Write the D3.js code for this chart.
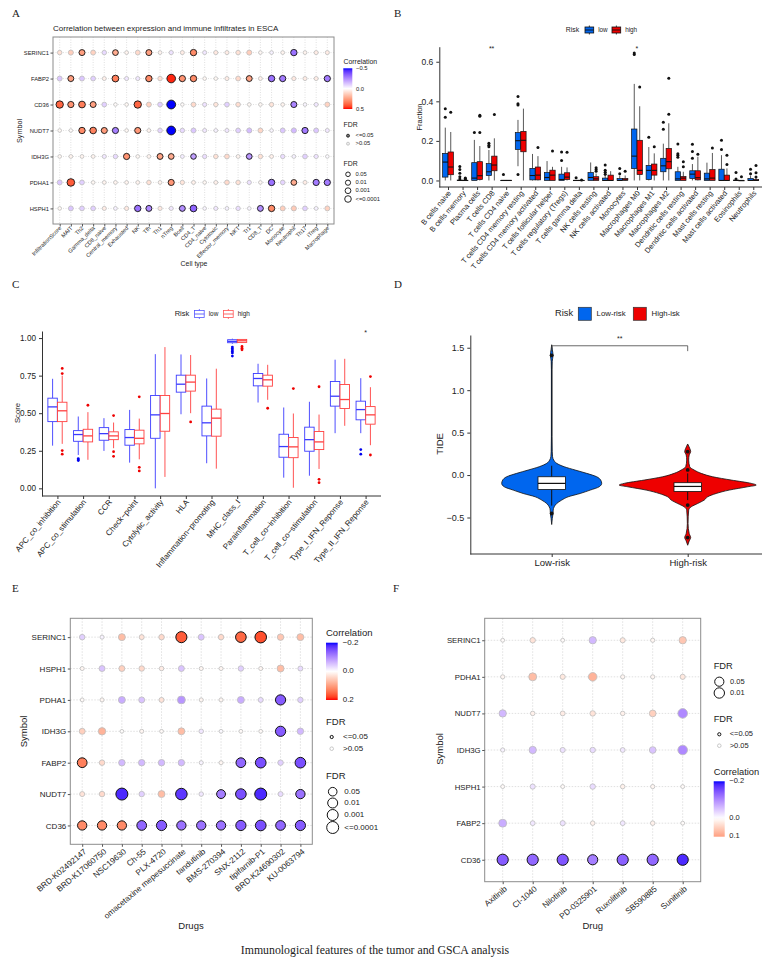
<!DOCTYPE html>
<html lang="en">
<head>
<meta charset="UTF-8">
<title>Immunological features of the tumor and GSCA analysis</title>
<style>
    body { margin: 0; background: #fff; }
    svg { display: block; opacity: 0.999; }
    text { font-family: "Liberation Sans", Arial, sans-serif; fill: #222; }
    .serif { font-family: "Liberation Serif", serif; fill: #222; }
</style>
</head>
<body>
<svg id="chart" width="776" height="966"></svg>
<script src="https://d3js.org/d3.v7.min.js"></script>
<script>
// panel A
const aCells = ["InfiltrationScore","MAIT","Th2","Gamma_delta","CD8_naive","Central_memory","Exhausted","NK","Tfh","Th1","nTreg","Bcell","CD4_T","CD4_naive","Cytotoxic","Effector_memory","NKT","Tr1","CD8_T","DC","Monocyte","Neutrophil","Th17","iTreg","Macrophage"];
const aGenes = ["SERINC1","FABP2","CD36","NUDT7","IDH3G","PDHA1","HSPH1"];
const aCorr = [
    [.08,.13,.25,.12,-.08,.22,.03,.1,.25,.03,-.06,.05,.3,-.05,.06,.05,.08,.13,.02,-.03,.03,-.3,.03,.05,.05],
    [-.12,.25,-.12,-.1,.04,.33,-.05,-.05,.3,.08,.48,.28,.3,.02,.02,.05,.1,.24,.04,-.3,-.28,.06,.05,.05,-.28],
    [.38,.28,.33,.25,-.1,.01,.02,.38,.12,-.1,-.5,.01,.1,-.06,.07,-.1,.09,.02,.02,.07,.03,-.26,-.02,-.05,.12],
    [.02,.01,.3,.32,.26,-.27,.02,.27,.03,-.09,-.5,-.08,-.12,-.05,-.03,-.05,-.1,-.14,.11,-.02,-.12,-.15,-.28,-.12,-.05],
    [.02,.03,.03,.03,-.05,-.08,.28,.02,.03,.24,.22,-.04,-.2,-.07,.08,.1,.03,-.22,.08,.04,-.07,-.03,-.1,-.06,-.01],
    [-.12,.4,-.1,.02,.03,.03,.03,.03,.08,.03,.27,.07,.04,.02,.04,.1,.08,-.06,.02,-.3,-.09,.22,.05,-.28,-.28],
    [.02,-.12,-.1,-.1,.05,-.03,.06,-.3,-.25,.06,-.05,-.24,-.33,-.02,-.05,-.03,-.07,-.02,-.24,.3,.13,.14,-.1,-.03,.12]
];
const aSig = [
    [2,5,8,12,21],
    [1,5,8,10,11,12,17,19,20,24],
    [0,1,2,3,7,10,21],
    [2,3,4,5,7,10,22],
    [6,9,10,12,17],
    [1,10,19,21,23,24],
    [7,8,11,12,18,19]
];

// panel B
const bCells = ["B cells naive","B cells memory","Plasma cells","T cells CD8","T cells CD4 naive","T cells CD4 memory resting","T cells CD4 memory activated","T cells follicular helper","T cells regulatory (Tregs)","T cells gamma delta","NK cells resting","NK cells activated","Monocytes","Macrophages M0","Macrophages M1","Macrophages M2","Dendritic cells resting","Dendritic cells activated","Mast cells resting","Mast cells activated","Eosinophils","Neutrophils"];
// whisker low, q1, median, q3, whisker high, outliers
const bLow = [
    [0,.017,.093,.137,.267,[.363,.32]],
    [0,0,0,.002,.003,[.07,.056,.037,.019,.007]],
    [0,0,.012,.09,.205,[.242]],
    [0,.025,.044,.085,.154,[.188,.178,.17]],
    [0,0,0,.001,.002,[.03]],
    [.072,.157,.201,.242,.306,[.424,.388,.382,.03]],
    [0,.003,.025,.061,.134,[]],
    [0,0,.015,.04,.098,[]],
    [0,0,.005,.032,.069,[.144,.101]],
    [0,0,0,.001,.002,[.014]],
    [0,0,.015,.04,.091,[]],
    [0,0,0,.012,.03,[.078,.052,.042,.032]],
    [0,0,0,.01,.025,[.061,.034]],
    [0,.06,.123,.26,.488,[.644,.637]],
    [0,.005,.051,.076,.169,[.218]],
    [0,.044,.074,.112,.186,[.294,.259]],
    [0,0,.008,.044,.069,[.184,.135,.127,.117]],
    [0,.01,.032,.049,.083,[.183,.147,.112]],
    [0,0,.008,.037,.09,[]],
    [0,0,0,.057,.128,[.203,.157]],
    [0,0,0,.002,.005,[.04,.007]],
    [0,0,0,.01,.025,[.057,.034]]
];
const bHigh = [
    [0,.029,.068,.144,.245,[.345]],
    [0,0,0,.001,.002,[.012,.01,.005]],
    [0,.005,.024,.095,.174,[.242,.33,.325]],
    [0,.049,.078,.123,.213,[.333]],
    [0,0,0,.001,.002,[]],
    [0,.145,.203,.248,.363,[]],
    [0,.003,.027,.068,.123,[.166]],
    [0,0,.027,.052,.069,[.149]],
    [0,.005,.017,.039,.066,[.142]],
    [0,0,0,.001,.001,[.002]],
    [0,0,.008,.019,.035,[.064,.056,.047]],
    [0,0,0,.027,.047,[]],
    [0,.002,.002,.01,.025,[.046]],
    [0,.03,.051,.203,.375,[.472]],
    [0,.027,.051,.083,.137,[.171]],
    [0,.059,.095,.162,.289,[.517,.335]],
    [0,0,.012,.02,.044,[.095,.069]],
    [0,.003,.014,.049,.12,[.132]],
    [0,0,.012,.055,.139,[.164]],
    [0,0,0,.027,.061,[.127,.081]],
    [0,0,0,0,.001,[.019]],
    [0,0,0,.005,.012,[.076,.039,.017]]
];
const bMarks = [["T cells CD8","**"],["Macrophages M0","*"]];

// panel C
const cCats = ["APC_co_inhibition","APC_co_stimulation","CCR","Check\u2212point","Cytolytic_activity","HLA","Inflammation\u2212promoting","MHC_class_I","Parainflammation","T_cell_co\u2212inhibition","T_cell_co\u2212stimulation","Type_I_IFN_Reponse","Type_II_IFN_Reponse"];
const cLow = [
    [.284,.444,.542,.6,.729,[]],
    [.222,.313,.358,.384,.478,[.198,.19,.185]],
    [.249,.32,.364,.404,.467,[]],
    [.171,.287,.338,.391,.522,[]],
    [0,.333,.489,.618,.893,[]],
    [.493,.64,.693,.753,.891,[]],
    [.167,.349,.436,.547,.731,[]],
    [.962,.969,.978,.989,.996,[.94,.93,.92,.91,.9,.88]],
    [.571,.682,.731,.764,.829,[]],
    [.071,.207,.278,.36,.538,[]],
    [.084,.247,.324,.407,.576,[]],
    [.367,.547,.613,.711,.856,[]],
    [.367,.456,.524,.58,.733,[.258,.227]]
];
const cHigh = [
    [.296,.444,.516,.573,.75,[.798,.764,.251,.227]],
    [.19,.309,.349,.393,.507,[.553]],
    [.267,.324,.349,.376,.438,[.484,.244,.213]],
    [.193,.296,.333,.387,.464,[.609,.14,.116]],
    [.076,.38,.498,.618,.94,[]],
    [.5,.647,.707,.753,.887,[.442]],
    [.131,.347,.467,.527,.796,[]],
    [.967,.971,.982,.991,.993,[.944,.933,.922]],
    [.589,.68,.722,.753,.822,[.533]],
    [.004,.204,.276,.338,.498,[.664]],
    [.129,.258,.309,.378,.491,[.676,.06,.038]],
    [.416,.531,.591,.691,.862,[]],
    [.287,.427,.489,.544,.673,[.744,.222]]
];
const cMarks = [["Type_II_IFN_Reponse","*"]];

// panel D
const dGroups = ["Low-risk","High-risk"];
const dLowY = [1.535,1.476,1.41,1.339,1.24,.453,.276,.217,.177,.138,.098,.059,.02,-.02,-.059,-.098,-.138,-.177,-.217,-.256,-.295,-.335,-.374,-.413,-.453,-.512,-.583];
const dLowDensity = [0,.013,.027,.01,.006,.006,.01,.017,.04,.1,.25,.47,.7,.9,.98,1,.95,.77,.57,.33,.2,.1,.05,.03,.027,.012,0];
const dHighY = [.366,.315,.276,.236,.177,.098,.059,.02,-.02,-.059,-.098,-.118,-.138,-.177,-.217,-.256,-.295,-.335,-.374,-.413,-.571,-.689,-.736,-.776,-.827];
const dHighDensity = [0,.04,.06,.03,.02,.04,.13,.27,.5,.87,1.27,1.37,1.2,.83,.57,.4,.33,.2,.07,.02,.007,.03,.06,.03,0];
const dLowBox = [-.36,-.17,-.098,-.02,.11,[1.41,-.453]];
const dHighBox = [-.295,-.193,-.134,-.09,.02,[.275,.06,-.354,-.736]];

// panel E
const eDrugs = ["BRD-K02492147","BRD-K17060750","NSC19630","Ch-55","PLX-4720","omacetaxine mepesuccinate","tandutinib","BMS-270394","SNX-2112","tipifarnib-P1","BRD-K24690302","KU-0063794"];
const eGenes = ["SERINC1","HSPH1","PDHA1","IDH3G","FABP2","NUDT7","CD36"];
const eCorr = [
    [-.04,-.01,.07,.03,.04,.16,-.05,.04,.15,.17,.06,.07],
    [.01,-.05,.05,.04,.02,-.05,.01,.01,-.04,.01,.07,-.03],
    [.005,.01,-.07,-.05,.03,-.09,.01,.01,-.07,-.03,-.14,-.04],
    [.05,.08,.002,.01,.005,.07,-.02,-.005,.005,.005,-.14,-.06],
    [.13,.04,-.06,-.06,-.06,-.06,-.01,.01,-.13,-.15,-.04,-.15],
    [.03,.04,-.18,-.04,.07,-.17,-.02,-.11,-.15,-.18,-.03,-.12],
    [.12,.12,.12,-.13,-.14,-.12,-.12,-.12,-.14,-.15,-.13,-.14]
];
const eSig = [[5,8,9],[],[10],[10],[0,8,9,11],[2,5,7,8,9,11],[0,1,2,3,4,5,6,7,8,9,10,11]];

// panel F
const fDrugs = ["Axitinib","CI-1040","Nilotinib","PD-0325901","Ruxolitinib","SB590885","Sunitinib"];
const fGenes = ["SERINC1","PDHA1","NUDT7","IDH3G","HSPH1","FABP2","CD36"];
const fCorr = [
    [.004,.03,.004,-.06,.025,.01,.06],
    [.01,.07,.025,.08,.01,.01,.025],
    [-.06,.015,.02,.03,.015,.05,-.1],
    [-.01,-.06,-.025,-.03,-.02,-.05,-.1],
    [.005,-.025,.005,-.03,.015,.01,.005],
    [-.07,-.02,-.025,.015,-.02,.015,.004],
    [-.14,-.13,-.145,-.11,-.135,-.13,-.18]
];
const fSig = [[],[],[],[],[],[],[0,1,2,3,4,5,6]];

const svg = d3.select("#chart");
const defs = svg.append("defs");
const BLUE = "#0000ff", RED = "#ff0000";

function corrColor(limit) {
    return d3.scaleLinear().domain([-limit, 0, limit]).range([BLUE, "#ffffff", RED]).interpolate(d3.interpolateLab);
}

function label(g, x, y, str, size, anchor) {
    return g.append("text").attr("x", x).attr("y", y).attr("font-size", size)
        .attr("text-anchor", anchor || "start").attr("dominant-baseline", "middle").text(str);
}

function rotLabel(g, x, y, str, size) {
    return g.append("text").attr("transform", `translate(${x},${y}) rotate(-90)`)
        .attr("font-size", size).attr("text-anchor", "middle").text(str);
}

function slantTicks(axisG, size, angle, shift) {
    axisG.selectAll("text")
        .attr("font-size", size)
        .attr("text-anchor", "end")
        .attr("dy", 0).attr("x", 0).attr("y", 0)
        .attr("transform", `translate(${shift[0]},${shift[1]}) rotate(${angle})`)
        .attr("dominant-baseline", "middle");
}

function colorBar(g, id, color, from, to, x, y, w, h) {
    const grad = defs.append("linearGradient").attr("id", id)
        .attr("x1", 0).attr("y1", 0).attr("x2", 0).attr("y2", 1);
    d3.range(0, 21).forEach(i => {
        grad.append("stop").attr("offset", i / 20).attr("stop-color", color(from + (to - from) * i / 20));
    });
    g.append("rect").attr("x", x).attr("y", y).attr("width", w).attr("height", h).attr("fill", `url(#${id})`);
}

// bubble panels A, E, F
function dotPanel(o) {
    const g = svg.append("g");
    const x = d3.scalePoint().domain(o.cols).range([o.x0, o.x1]).padding(0.6);
    const y = d3.scalePoint().domain(o.rows).range([o.y0, o.y1]).padding(0.6);

    g.append("g").selectAll("line").data(o.cols).join("line")
        .attr("x1", d => x(d)).attr("x2", d => x(d)).attr("y1", o.y0).attr("y2", o.y1)
        .attr("stroke", "#d8d8d8").attr("stroke-width", 0.8).attr("stroke-dasharray", o.dash);
    g.append("g").selectAll("line").data(o.rows).join("line")
        .attr("y1", d => y(d)).attr("y2", d => y(d)).attr("x1", o.x0).attr("x2", o.x1)
        .attr("stroke", "#d8d8d8").attr("stroke-width", 0.8).attr("stroke-dasharray", o.dash);

    const cells = [];
    o.rows.forEach((r, i) => o.cols.forEach((c, j) => {
        cells.push({ r, c, v: o.corr[i][j], sig: o.sig[i].includes(j) });
    }));
    g.append("g").selectAll("circle").data(cells).join("circle")
        .attr("cx", d => x(d.c)).attr("cy", d => y(d.r))
        .attr("r", d => o.radius(Math.abs(d.v)))
        .attr("fill", d => o.color(d.v))
        .attr("stroke", d => d.sig ? "#111" : "#bdbdbd")
        .attr("stroke-width", d => d.sig ? o.sw : 0.8);

    g.append("rect").attr("x", o.x0).attr("y", o.y0).attr("width", o.x1 - o.x0).attr("height", o.y1 - o.y0)
        .attr("fill", "none").attr("stroke", "#8c8c8c").attr("stroke-width", 1);

    const ax = g.append("g").attr("transform", `translate(0,${o.y1})`)
        .call(d3.axisBottom(x).tickSize(2.5).tickSizeOuter(0));
    ax.select(".domain").remove();
    ax.selectAll("line").attr("stroke", "#555");
    slantTicks(ax, o.tickFont, o.angle, o.shift);

    const ay = g.append("g").attr("transform", `translate(${o.x0},0)`)
        .call(d3.axisLeft(y).tickSize(2.5).tickSizeOuter(0).tickPadding(1.5));
    ay.select(".domain").remove();
    ay.selectAll("line").attr("stroke", "#555");
    ay.selectAll("text").attr("font-size", o.rowFont);

    return g;
}

// box panels B, C
function boxPanel(o) {
    const g = svg.append("g");
    const x = d3.scalePoint().domain(o.cats).range([o.x0, o.x1]).padding(0.6);
    const y = d3.scaleLinear().domain(o.yDomain).range(o.yRange);
    const step = x.step();
    const bw = step * 0.75 / 2;

    [[o.low, -1, o.lowStyle], [o.high, 1, o.highStyle]].forEach(([rows, side, st]) => {
        const cx = i => x(o.cats[i]) + side * bw / 2;
        const boxW = bw * 0.98;
        const grp = g.append("g").selectAll("g").data(rows).join("g");
        grp.append("line").attr("x1", (d, i) => cx(i)).attr("x2", (d, i) => cx(i))
            .attr("y1", d => y(d[0])).attr("y2", d => y(d[1]))
            .attr("stroke", st.line).attr("stroke-width", o.whisker);
        grp.append("line").attr("x1", (d, i) => cx(i)).attr("x2", (d, i) => cx(i))
            .attr("y1", d => y(d[3])).attr("y2", d => y(d[4]))
            .attr("stroke", st.line).attr("stroke-width", o.whisker);
        grp.append("rect").attr("x", (d, i) => cx(i) - boxW / 2).attr("width", boxW)
            .attr("y", d => y(d[3])).attr("height", d => Math.max(0.4, y(d[1]) - y(d[3])))
            .attr("fill", st.fill).attr("stroke", st.line).attr("stroke-width", o.boxStroke);
        grp.append("line").attr("x1", (d, i) => cx(i) - boxW / 2).attr("x2", (d, i) => cx(i) + boxW / 2)
            .attr("y1", d => y(d[2])).attr("y2", d => y(d[2]))
            .attr("stroke", st.line).attr("stroke-width", o.median);
        grp.each(function (d, i) {
            d3.select(this).selectAll("circle").data(d[5]).join("circle")
                .attr("cx", cx(i)).attr("cy", v => y(v)).attr("r", o.dotR).attr("fill", st.dot);
        });
    });

    g.selectAll(".mark").data(o.marks).join("text").attr("class", "mark")
        .attr("x", d => x(d[0])).attr("y", y(o.markAt)).attr("font-size", 7)
        .attr("text-anchor", "middle").attr("dominant-baseline", "middle").text(d => d[1]);

    const ax = g.append("g").attr("transform", `translate(0,${o.yRange[0]})`)
        .call(d3.axisBottom(x).tickSize(3).tickSizeOuter(0));
    ax.select(".domain").remove();
    ax.append("line").attr("x1", o.x0).attr("x2", o.x1).attr("stroke", "#333").attr("stroke-width", 1);
    ax.selectAll(".tick line").attr("stroke", "#333");
    slantTicks(ax, o.tickFont, -50, [1.5, 5]);

    const ay = g.append("g").attr("transform", `translate(${o.x0},0)`)
        .call(d3.axisLeft(y).tickValues(o.yTicks).tickFormat(d3.format(o.yFormat)).tickSize(3).tickSizeOuter(0));
    ay.select(".domain").attr("stroke", "#333");
    ay.selectAll("line").attr("stroke", "#333");
    ay.selectAll("text").attr("font-size", o.yFont);
    return g;
}

// A
const colorA = corrColor(0.5);
const gA = dotPanel({
    cols: aCells, rows: aGenes, corr: aCorr, sig: aSig, color: colorA,
    x0: 53, x1: 334, y0: 37, y1: 224, dash: "1,1.5", sw: 0.9,
    radius: d3.scaleLinear().domain([0, .1, .3, .5]).range([1.7, 2.4, 3.2, 4.4]),
    tickFont: 5.6, rowFont: 5.8, angle: -45, shift: [.5, 3.5]
});
label(gA, 53, 29, "Correlation between expression and immune infiltrates in ESCA", 8);
label(gA, 194, 264, "Cell type", 6.9, "middle");
rotLabel(gA, 22, 131, "Symbol", 7.2);
label(gA, 343.5, 62, "Correlation", 6.9);
colorBar(gA, "gradA", colorA, -.5, .5, 343.3, 68.3, 9, 40.7);
[["\u22120.5", 68.5], ["0.0", 89], ["0.5", 109]].forEach(d => label(gA, 356, d[1], d[0], 5.8));
label(gA, 343.5, 125, "FDR", 6.9);
gA.append("circle").attr("cx", 348).attr("cy", 135.7).attr("r", 1.5).attr("fill", "#777").attr("stroke", "#111").attr("stroke-width", .8);
gA.append("circle").attr("cx", 348).attr("cy", 143.7).attr("r", 1.5).attr("fill", "#eee").attr("stroke", "#bbb").attr("stroke-width", .8);
label(gA, 355.5, 135.7, "<=0.05", 5.8);
label(gA, 355.5, 143.7, ">0.05", 5.8);
label(gA, 343.5, 164, "FDR", 6.9);
[["0.05", 174.3, 2.3], ["0.01", 182.7, 2.6], ["0.001", 190.7, 2.9], ["<=0.0001", 199, 3.3]].forEach(d => {
    gA.append("circle").attr("cx", 348).attr("cy", d[1]).attr("r", d[2]).attr("fill", "none").attr("stroke", "#111").attr("stroke-width", .9);
    label(gA, 355.5, d[1], d[0], 5.8);
});

// B
const gB = boxPanel({
    cats: bCells, low: bLow, high: bHigh, marks: bMarks, markAt: .665,
    x0: 439.3, x1: 762, yDomain: [-.033, .676], yRange: [187, 46.7],
    yTicks: [0, .2, .4, .6], yFormat: ".1f", yFont: 8.5, tickFont: 7.5,
    lowStyle: { fill: "#0066ee", line: "#111", dot: "#111" },
    highStyle: { fill: "#ee0000", line: "#111", dot: "#111" },
    whisker: .7, boxStroke: .7, median: 1.1, dotR: 1.5
});
rotLabel(gB, 422, 117, "Fraction", 7.5);
function riskLegend(g, x, y, lowStyle, highStyle, keys, titleSize, textSize, keyW, keyH) {
    label(g, x, y, "Risk", titleSize);
    keys.forEach((k, i) => {
        const st = i ? highStyle : lowStyle;
        g.append("line").attr("x1", k.x + keyW / 2).attr("x2", k.x + keyW / 2).attr("y1", y - keyH / 2 - 1.5).attr("y2", y + keyH / 2 + 1.5).attr("stroke", st.line).attr("stroke-width", .8);
        g.append("rect").attr("x", k.x).attr("y", y - keyH / 2).attr("width", keyW).attr("height", keyH)
            .attr("fill", st.fill).attr("stroke", st.line).attr("stroke-width", .8);
        g.append("line").attr("x1", k.x).attr("x2", k.x + keyW).attr("y1", y).attr("y2", y).attr("stroke", st.line).attr("stroke-width", .9);
        label(g, k.x + keyW + 4.5, y, k.t, textSize);
    });
}
riskLegend(gB, 565.7, 30, { fill: "#0066ee", line: "#111" }, { fill: "#ee0000", line: "#111" }, [{ x: 585, t: "low" }, { x: 612, t: "high" }], 6.9, 6.3, 8.7, 6);

// C
const gC = boxPanel({
    cats: cCats, low: cLow, high: cHigh, marks: cMarks, markAt: 1.03,
    x0: 42, x1: 381, yDomain: [-.051, 1.047], yRange: [496, 331],
    yTicks: [0, .25, .5, .75, 1], yFormat: ".2f", yFont: 8.2, tickFont: 8,
    lowStyle: { fill: "#fff", line: "#3b3bff", dot: "#0000ee" },
    highStyle: { fill: "#fff", line: "#ff4040", dot: "#ee0000" },
    whisker: .9, boxStroke: .9, median: 1.3, dotR: 1.4
});
rotLabel(gC, 20, 413, "Score", 7.7);
riskLegend(gC, 174.7, 314, { fill: "#fff", line: "#5555ff" }, { fill: "#fff", line: "#ff5555" }, [{ x: 194.5, t: "low" }, { x: 223.5, t: "high" }], 7.5, 6.4, 9.7, 7);

// D
const gD = svg.append("g");
const xD = d3.scalePoint().domain(dGroups).range([551.7, 687.7]);
const yD = d3.scaleLinear().domain([-.93, 1.65]).range([554, 335]);
const wD = d3.scaleLinear().domain([0, 1]).range([0, 50]);
function violin(group, ys, dens, fill, box) {
    const cx = xD(group);
    const pts = ys.map((v, i) => ({ v, d: dens[i] }));
    const area = d3.area().y(p => yD(p.v)).x0(p => cx - wD(p.d)).x1(p => cx + wD(p.d)).curve(d3.curveMonotoneY);
    gD.append("path").attr("d", area(pts)).attr("fill", fill).attr("stroke", "#111").attr("stroke-width", .8);
    gD.append("line").attr("x1", cx).attr("x2", cx).attr("y1", yD(box[4])).attr("y2", yD(box[0])).attr("stroke", "#111").attr("stroke-width", 1);
    gD.append("rect").attr("x", cx - 13.7).attr("width", 27.4).attr("y", yD(box[3])).attr("height", yD(box[1]) - yD(box[3]))
        .attr("fill", "#fff").attr("stroke", "#111").attr("stroke-width", .8);
    gD.append("line").attr("x1", cx - 13.7).attr("x2", cx + 13.7).attr("y1", yD(box[2])).attr("y2", yD(box[2])).attr("stroke", "#111").attr("stroke-width", 1.2);
    gD.append("g").selectAll("circle").data(box[5]).join("circle")
        .attr("cx", cx).attr("cy", v => yD(v)).attr("r", 1.9).attr("fill", "#111");
}
gD.append("line").attr("x1", xD("Low-risk")).attr("x2", xD("Low-risk")).attr("y1", yD(1.52)).attr("y2", yD(.1)).attr("stroke", "#111").attr("stroke-width", .9);
violin("Low-risk", dLowY, dLowDensity, "#0066ee", dLowBox);
violin("High-risk", dHighY, dHighDensity, "#ee0000", dHighBox);
gD.append("path")
    .attr("d", `M${xD("Low-risk")},${yD(1.46)}V${yD(1.523)}H${xD("High-risk")}V${yD(1.46)}`)
    .attr("fill", "none").attr("stroke", "#444").attr("stroke-width", .8);
label(gD, (xD("Low-risk") + xD("High-risk")) / 2, yD(1.6), "**", 7, "middle");
const axD = gD.append("g").attr("transform", "translate(0,554)").call(d3.axisBottom(xD).tickSize(3).tickSizeOuter(0));
axD.select(".domain").remove();
axD.append("line").attr("x1", 470.3).attr("x2", 762).attr("stroke", "#333").attr("stroke-width", 1);
axD.selectAll(".tick line").attr("stroke", "#333");
axD.selectAll("text").attr("font-size", 9.5).attr("dy", ".65em");
const ayD = gD.append("g").attr("transform", "translate(470.3,0)")
    .call(d3.axisLeft(yD).tickValues([-.5, 0, .5, 1, 1.5]).tickFormat(d3.format(".1f")).tickSize(3).tickSizeOuter(0));
ayD.select(".domain").attr("stroke", "#333");
ayD.selectAll("line").attr("stroke", "#333");
ayD.selectAll("text").attr("font-size", 9);
rotLabel(gD, 442.5, 444, "TIDE", 9.5);
label(gD, 555, 314, "Risk", 9.3);
[["Low-risk", 578.3, "#0066ee"], ["High-isk", 633.3, "#ee0000"]].forEach(d => {
    gD.append("rect").attr("x", d[1]).attr("y", 307.3).attr("width", 13).attr("height", 13)
        .attr("fill", d[2]).attr("stroke", "#333").attr("stroke-width", .7);
    label(gD, d[1] + 18.3, 313.5, d[0], 7.8);
});

// E
const colorE = corrColor(0.2);
const gE = dotPanel({
    cols: eDrugs, rows: eGenes, corr: eCorr, sig: eSig, color: colorE,
    x0: 70.3, x1: 312.3, y0: 618.3, y1: 844.3, dash: "1.5,1.5", sw: 1,
    radius: d3.scaleLinear().domain([0, .05, .1, .18]).range([1.8, 3, 4.2, 6]).clamp(true),
    tickFont: 8.2, rowFont: 8, angle: -40, shift: [3, 6.5]
});
label(gE, 191, 926.5, "Drugs", 9.5, "middle");
rotLabel(gE, 26.5, 731.5, "Symbol", 9.5);
label(gE, 326, 633, "Correlation", 9.5);
colorBar(gE, "gradE", colorE, -.2, .2, 326, 642.7, 11.7, 57.3);
[["\u22120.2", 643], ["0.0", 671], ["0.2", 700]].forEach(d => label(gE, 342.7, d[1], d[0], 8));
label(gE, 326, 722.3, "FDR", 9.5);
gE.append("circle").attr("cx", 331.7).attr("cy", 737).attr("r", 1.6).attr("fill", "#fff").attr("stroke", "#111").attr("stroke-width", 1);
gE.append("circle").attr("cx", 331.7).attr("cy", 748.7).attr("r", 1.8).attr("fill", "#fff").attr("stroke", "#bbb").attr("stroke-width", .8);
label(gE, 343, 737, "<=0.05", 8);
label(gE, 343, 748.7, ">0.05", 8);
label(gE, 326, 776.7, "FDR", 9.5);
[["0.05", 791.7, 4.3], ["0.01", 803, 5], ["0.001", 815, 5.5], ["<=0.0001", 827.5, 6]].forEach(d => {
    gE.append("circle").attr("cx", 332.7).attr("cy", d[1]).attr("r", d[2]).attr("fill", "none").attr("stroke", "#111").attr("stroke-width", 1);
    label(gE, 344.3, d[1], d[0], 8);
});

// F
const colorF = corrColor(0.2);
const gF = dotPanel({
    cols: fDrugs, rows: fGenes, corr: fCorr, sig: fSig, color: colorF,
    x0: 484.7, x1: 700.7, y0: 618.3, y1: 881.7, dash: "1.5,1.5", sw: 1,
    radius: d3.scaleLinear().domain([0, .08, .13]).range([1.8, 4.3, 5.6]).clamp(true),
    tickFont: 8.2, rowFont: 7.8, angle: -40, shift: [3, 6.5]
});
label(gF, 592.7, 926.5, "Drug", 9.5, "middle");
rotLabel(gF, 443, 749, "Symbol", 9.5);
label(gF, 713.7, 667, "FDR", 9.3);
[["0.05", 681.7, 4.6], ["0.01", 693, 5.2]].forEach(d => {
    gF.append("circle").attr("cx", 719.3).attr("cy", d[1]).attr("r", d[2]).attr("fill", "none").attr("stroke", "#111").attr("stroke-width", 1);
    label(gF, 730, d[1], d[0], 7.5);
});
label(gF, 713.7, 720, "FDR", 9.3);
gF.append("circle").attr("cx", 719.3).attr("cy", 734.3).attr("r", 1.6).attr("fill", "#fff").attr("stroke", "#111").attr("stroke-width", 1);
gF.append("circle").attr("cx", 719.3).attr("cy", 745.7).attr("r", 1.8).attr("fill", "#fff").attr("stroke", "#bbb").attr("stroke-width", .8);
label(gF, 729.7, 734.3, "<=0.05", 7.5);
label(gF, 729.7, 745.7, ">0.05", 7.5);
label(gF, 713.7, 772.3, "Correlation", 9.3);
colorBar(gF, "gradF", colorF, -.2, .1, 713.7, 781.3, 11, 55.4);
[["\u22120.2", 781.5], ["0.0", 818], ["0.1", 836.5]].forEach(d => label(gF, 729.3, d[1], d[0], 7.5));

// panel letters and caption
[["A", 12, 14], ["B", 394, 14], ["C", 12, 285], ["D", 394, 285], ["E", 12, 589], ["F", 393, 589]].forEach(d => {
    svg.append("text").attr("class", "serif").attr("x", d[1]).attr("y", d[2]).attr("font-size", 11)
        .attr("dominant-baseline", "middle").text(d[0]);
});
svg.append("text").attr("class", "serif").attr("x", 375).attr("y", 951).attr("font-size", 11.8)
    .attr("text-anchor", "middle").attr("dominant-baseline", "middle")
    .text("Immunological features of the tumor and GSCA analysis");
</script>
</body>
</html>
